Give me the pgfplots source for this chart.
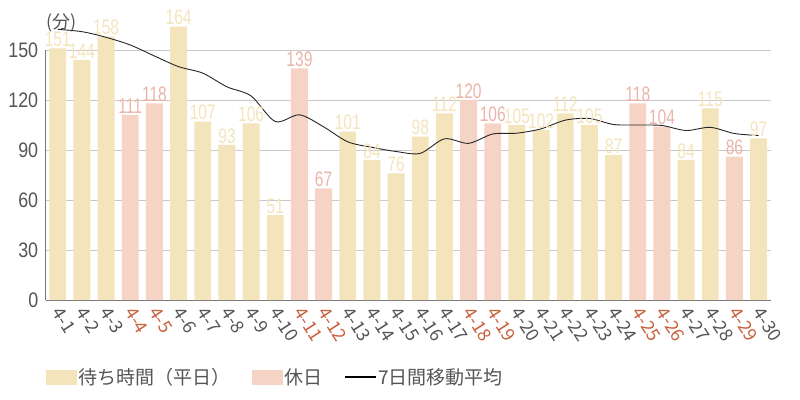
\documentclass[border=0pt]{standalone}
\usepackage{fontspec}
\setmainfont{Noto Sans CJK JP}
\newfontfamily\tickfont[FakeStretch=0.85]{Liberation Sans}
\newfontfamily\valfont[FakeStretch=0.74]{Liberation Sans}
\usepackage{pgfplots}
\pgfplotsset{compat=1.18}

\definecolor{weekday}{HTML}{F3E4BC}
\definecolor{holiday}{HTML}{F5D3C5}
\definecolor{holtxt}{HTML}{C9603C}
\definecolor{txtgray}{HTML}{555555}
\definecolor{gridgray}{HTML}{C8C8C8}

% x = day index (0 = 4-1)
\pgfplotstableread{
x y
0 151
1 144
2 158
5 164
6 107
7 93
8 106
9 51
12 101
13 84
14 76
15 98
16 112
19 105
20 102
21 112
22 105
23 87
26 84
27 115
29 97
}\weekdays
\pgfplotstableread{
x y
3 111
4 118
10 139
11 67
17 120
18 106
24 118
25 104
28 86
}\holidays
\pgfplotstableread{
x y
0 162.4
1 161.0
2 157.6
3 153.0
4 146.4
5 140.0
6 136.1
7 127.9
8 122.4
9 107.1
10 111.1
11 103.9
12 94.9
13 91.6
14 89.1
15 88.0
16 96.7
17 94.0
18 99.6
19 100.1
20 102.7
21 107.9
22 108.9
23 105.3
24 105.0
25 104.7
26 101.7
27 103.6
28 99.9
29 98.7
}\movavg

\begin{document}
\begin{tikzpicture}
\useasboundingbox (-45.7bp,-100bp) rectangle (754.3bp,300bp);
\begin{axis}[
    at={(0,0)}, anchor=south west,
    scale only axis,
    width=725bp, height=250bp,
    xmin=-0.5, xmax=29.5,
    ymin=0, ymax=150,
    clip=false,
    axis x line*=bottom,
    axis y line*=left,
    axis line style={draw=txtgray!80},
    major tick length=0pt,
    ytick={0,30,...,150},
    ymajorgrids,
    grid style={gridgray, line width=0.8bp},
    /pgf/number format/assume math mode=true,
    yticklabel style={font=\tickfont\fontsize{21bp}{21bp}\selectfont, text=txtgray, xshift=-4bp},
    xtick={0,...,29},
    xticklabels={4-1,4-2,4-3,\textcolor{holtxt}{4-4},\textcolor{holtxt}{4-5},4-6,4-7,4-8,4-9,4-10,
      \textcolor{holtxt}{4-11},\textcolor{holtxt}{4-12},4-13,4-14,4-15,4-16,4-17,
      \textcolor{holtxt}{4-18},\textcolor{holtxt}{4-19},4-20,4-21,4-22,4-23,4-24,
      \textcolor{holtxt}{4-25},\textcolor{holtxt}{4-26},4-27,4-28,\textcolor{holtxt}{4-29},4-30},
    xticklabel style={font=\fontsize{18bp}{18bp}\selectfont, text=txtgray, yshift=-9bp, xshift=-1bp, rotate=-57, anchor=west, inner sep=0pt},
    legend columns=3,
    legend style={at={(0,0)}, anchor=west, yshift=-77bp, draw=none, fill=none, inner sep=0pt,
      font=\fontsize{19bp}{20bp}\selectfont, text=txtgray,
      nodes={inner sep=1.5bp},
      /tikz/every even column/.append style={column sep=20bp}},
    legend cell align=left,
    ]
  \addplot[ybar, bar width=0.7, bar shift=0pt, fill=weekday, draw=none,
    nodes near coords,
    every node near coord/.append style={font=\valfont\fontsize{21bp}{21bp}\selectfont, text=weekday, anchor=south, inner sep=1.5bp},
    legend image code/.code={\fill[weekday] (0bp,-7.5bp) rectangle (31bp,7.5bp);}]
    table[x=x, y=y] {\weekdays};
  \addlegendentry{待ち時間（平日）}
  \addplot[ybar, bar width=0.7, bar shift=0pt, fill=holiday, draw=none,
    nodes near coords,
    every node near coord/.append style={font=\valfont\fontsize{21bp}{21bp}\selectfont, text=holiday!90!red!95!black, anchor=south, inner sep=1.5bp},
    legend image code/.code={\fill[holiday] (0bp,-7.5bp) rectangle (31bp,7.5bp);}]
    table[x=x, y=y] {\holidays};
  \addlegendentry{休日}
  \addplot[black!85, line width=0.9bp, smooth, mark=none,
    legend image code/.code={\draw[black, line width=2bp] (0bp,0bp) -- (31bp,0bp);}]
    table[x=x, y=y] {\movavg};
  \addlegendentry{7日間移動平均}
  \node[anchor=west, text=txtgray, font=\fontsize{18bp}{20bp}\selectfont, inner sep=0pt]
    at (rel axis cs:0,1) [xshift=1bp, yshift=27bp] {(分)};
\end{axis}
\end{tikzpicture}
\end{document}
